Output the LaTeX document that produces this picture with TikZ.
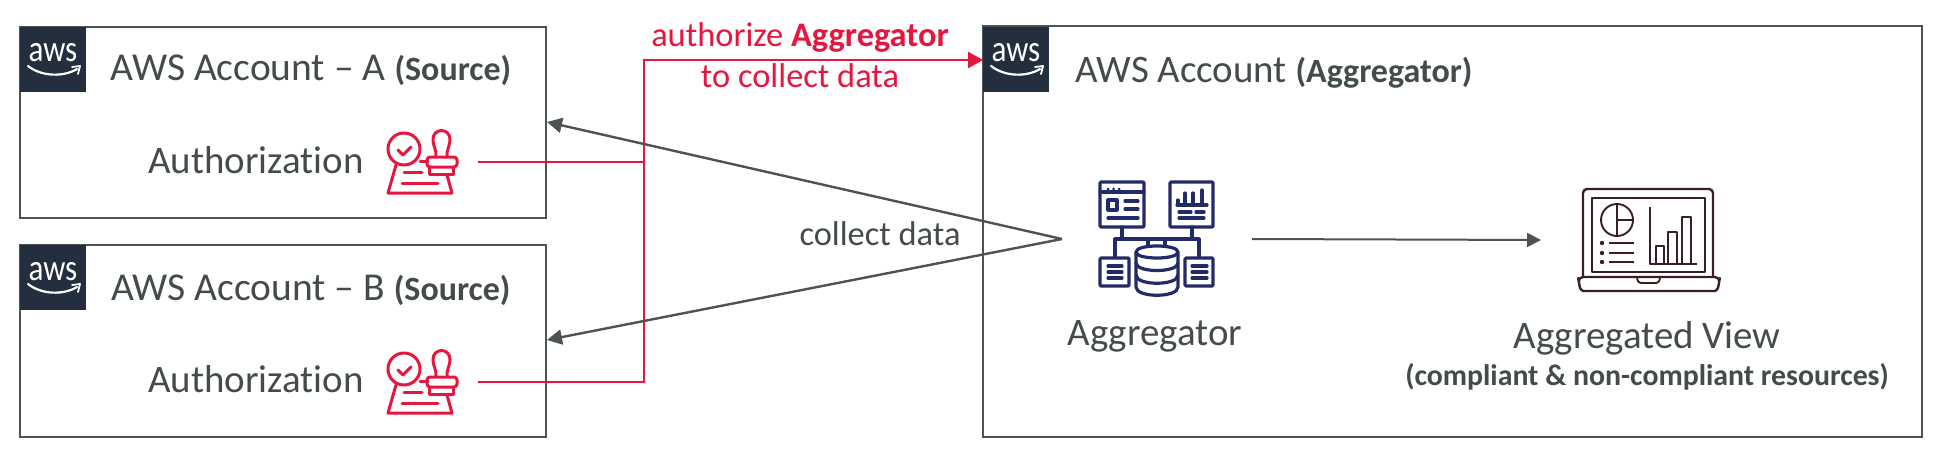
\documentclass[tikz,border=0pt]{standalone}
\usepackage{fontspec}
\setmainfont[Ligatures=NoCommon]{Carlito}
\usetikzlibrary{arrows.meta}
\definecolor{txtgray}{HTML}{444B4B}
\definecolor{linegray}{HTML}{4D5353}
\definecolor{awsred}{HTML}{E5173F}
\definecolor{awsnavy}{HTML}{232F3E}
\definecolor{iconblue}{HTML}{232A68}
\definecolor{iconbrown}{HTML}{3B1E22}
\tikzset{
  x=1pt,y=-1pt,
  acct/.style={draw=linegray,line width=2.6pt,fill=white,inner sep=0pt,outer sep=0pt,anchor=north west},
  big/.style={text=txtgray,font=\fontsize{38.9}{44}\selectfont,inner sep=0pt,anchor=base},
  title/.style={text=txtgray,font=\fontsize{39.5}{44}\selectfont,inner sep=0pt,anchor=base},
  mid/.style={font=\fontsize{34.4}{40}\selectfont,inner sep=0pt,anchor=base},
  slot/.style={inner sep=0pt,outer sep=0pt,minimum height=10pt},
  redlink/.style={draw=awsred,line width=2.8pt},
  graylink/.style={draw=linegray,line width=2.4pt,-{Triangle[length=15pt,width=15pt]}},
  graythin/.style={draw=linegray,line width=2pt,-{Triangle[length=14pt,width=14pt]}},
  stampline/.style={draw=awsred,line width=3pt,line join=round,line cap=round},
  dbline/.style={draw=iconblue,line width=3.2pt,line join=round,line cap=round},
  lapline/.style={draw=iconbrown,line width=1.9pt,line join=round},
  awslogo/.pic={
    \fill[awsnavy] (0,0) rectangle (66,65);
    \node[text=white,font=\fontsize{31}{31}\selectfont,inner sep=0pt,anchor=base] at (33,35) {\scalebox{1}[1.2]{aws}};
    \draw[white,line width=2.2pt,line cap=round] (8,39) .. controls (22,50) and (44,50) .. (57,42);
    \draw[white,line width=1.8pt,line cap=round,line join=round] (52,40) -- (60,39) -- (58,47);
  },
  stamp/.pic={
    \draw[stampline] (404,149) circle[radius=16];
    \draw[stampline] (398,150) -- (403,155) -- (411,147);
    \draw[stampline] (396,165) -- (388,193) -- (452,193) -- (447,175);
    \draw[stampline] (420,161) -- (428,161);
    \draw[stampline] (404,172) -- (422,172);
    \draw[stampline] (402,183) -- (438,183);
    \draw[stampline,rounded corners=3pt] (427,157) rectangle (457,167);
    \draw[stampline] (429,167) -- (429,174) -- (453,174) -- (453,167);
    \draw[stampline] (436,157) .. controls (437,150) and (433,147) .. (433,139)
       arc[start angle=180,end angle=360,radius=8.5]
       .. controls (450,147) and (446,150) .. (447,157);
  },
}
\newcommand{\boldpart}[1]{{\fontsize{34}{38}\selectfont\bfseries #1}}
\begin{document}
\begin{tikzpicture}
\useasboundingbox (0,0) rectangle (1940,452);
\fill[white] (0,0) rectangle (1940,452);
% account boxes
\node[acct,minimum width=526pt,minimum height=191pt] (boxA) at (20,27) {};
\node[acct,minimum width=526pt,minimum height=192pt] (boxB) at (20,245) {};
\node[acct,minimum width=939pt,minimum height=411pt] (boxR) at (983,26) {};
\pic at (20,27) {awslogo};
\pic at (20,245) {awslogo};
\pic at (983,27) {awslogo};
% headings
\node[title] (titleA) at (311,81) {AWS Account – A \boldpart{(Source)}};
\node[title] (titleB) at (311,300) {AWS Account – B \boldpart{(Source)}};
\node[big] (titleR) at (1274,82) {AWS Account \boldpart{(Aggregator)}};
\node[big] (authA) at (256,173) {Authorization};
\node[big] (authB) at (256,392) {Authorization};
\node[big] (aggLabel) at (1155,345) {Aggregator};
\node[big] (viewLabel) at (1647,348) {Aggregated View};
\node[text=txtgray,font=\fontsize{29.8}{34}\selectfont\bfseries,inner sep=0pt,anchor=base] (viewSub) at (1647,385) {(compliant \& non-compliant resources)};
\node[mid,text=awsred] (authText1) at (800,47) {authorize {\bfseries Aggregator}};
\node[mid,text=awsred] (authText2) at (800,88) {to collect data};
\node[mid,text=txtgray] (collectText) at (880,245) {collect data};
% stamp icons
\pic at (0,0) {stamp};
\pic at (0,220) {stamp};
% slots the connectors attach to
\node[slot,minimum width=91pt] (stampA) at (432.5,162) {};
\node[slot,minimum width=91pt] (stampB) at (432.5,382) {};
\node[slot,minimum width=190pt] (aggIcon) at (1157,239) {};
\node[slot,minimum width=216pt] (viewIcon) at (1649,240) {};
\coordinate (junction) at (644,162);
\coordinate (corner) at (644,60);
\coordinate (tipA) at (547,122);
\coordinate (tipB) at (547,340);
% aggregator icon
\draw[dbline,rounded corners=1pt] (1100,182) rectangle (1144,227);
\draw[dbline] (1100,192) -- (1144,192);
\fill[iconblue] (1108,189) circle[radius=1.5] (1113.5,189) circle[radius=1.5] (1119,189) circle[radius=1.5];
\draw[dbline] (1108,200) rectangle (1117,210);
\draw[dbline] (1125,201) -- (1138,201) (1125,209) -- (1138,209) (1108,218) -- (1138,218);
\draw[dbline,rounded corners=1pt] (1170,182) rectangle (1213,227);
\draw[dbline] (1178,205) -- (1178,200) (1185,205) -- (1185,193) (1193,205) -- (1193,193) (1202,205) -- (1202,190) (1177,205) -- (1207,205);
\draw[dbline] (1179,212) -- (1191,212) (1196,212) -- (1204,212) (1179,218) -- (1204,218);
\draw[dbline] (1122,227) -- (1122,239) (1192,227) -- (1192,239) (1115,258) -- (1115,239) -- (1199,239) -- (1199,258);
\draw[dbline] (1148,239) -- (1148,252) (1165,239) -- (1165,252);
\draw[dbline,fill=white] (1136,252) .. controls (1136,244) and (1178,244) .. (1178,252) -- (1178,287) .. controls (1178,298) and (1136,298) .. (1136,287) -- cycle;
\draw[dbline] (1136,252) .. controls (1136,260) and (1178,260) .. (1178,252);
\draw[dbline] (1136,263) .. controls (1136,273) and (1178,273) .. (1178,263);
\draw[dbline] (1136,275) .. controls (1136,286) and (1178,286) .. (1178,275);
\draw[dbline,fill=white,rounded corners=1pt] (1100,258) rectangle (1129,286);
\draw[dbline] (1108,266) -- (1122,266) (1108,272) -- (1122,272) (1108,278) -- (1122,278);
\draw[dbline,fill=white,rounded corners=1pt] (1185,258) rectangle (1213,286);
\draw[dbline] (1192,266) -- (1207,266) (1192,272) -- (1207,272) (1192,278) -- (1207,278);
% laptop icon
\draw[lapline,line width=2.4pt,rounded corners=4pt] (1583,277) -- (1583,189) -- (1713,189) -- (1713,277);
\draw[lapline,line width=2.4pt] (1592,198) rectangle (1705,272);
\draw[lapline,line width=2.4pt,rounded corners=5pt] (1578,277) -- (1720,277) -- (1719,283) .. controls (1718,288) and (1716,291) .. (1710,291) -- (1588,291) .. controls (1582,291) and (1580,288) .. (1579,283) -- cycle;
\draw[lapline,rounded corners=3pt] (1637,277) -- (1638,283) -- (1659,283) -- (1660,277);
\draw[lapline] (1617,220) circle[radius=16];
\draw[lapline] (1617,204) -- (1617,236) (1617,220) -- (1633,220);
\fill[iconbrown] (1602,243) circle[radius=2.2] (1602,253) circle[radius=2.2] (1602,262) circle[radius=2.2];
\draw[lapline] (1609,243) -- (1634,243) (1609,253) -- (1634,253) (1609,262) -- (1634,262);
\draw[lapline] (1650,207) -- (1650,264) -- (1697,264);
\draw[lapline] (1656,264) -- (1656,246) -- (1664,246) -- (1664,264);
\draw[lapline] (1668,264) -- (1668,232) -- (1677,232) -- (1677,264);
\draw[lapline] (1682,264) -- (1682,217) -- (1691,217) -- (1691,264);
% connectors
\draw[redlink] (stampA.east) -- (junction);
\draw[redlink,-{Triangle[length=15pt,width=16pt]}] (stampB.east) -| (corner) -- (boxR.west |- corner);
\draw[graylink] (aggIcon.west) -- (tipA);
\draw[graylink] (aggIcon.west) -- (tipB);
\draw[graythin] (aggIcon.east) -- (viewIcon.west);
\end{tikzpicture}
\end{document}
